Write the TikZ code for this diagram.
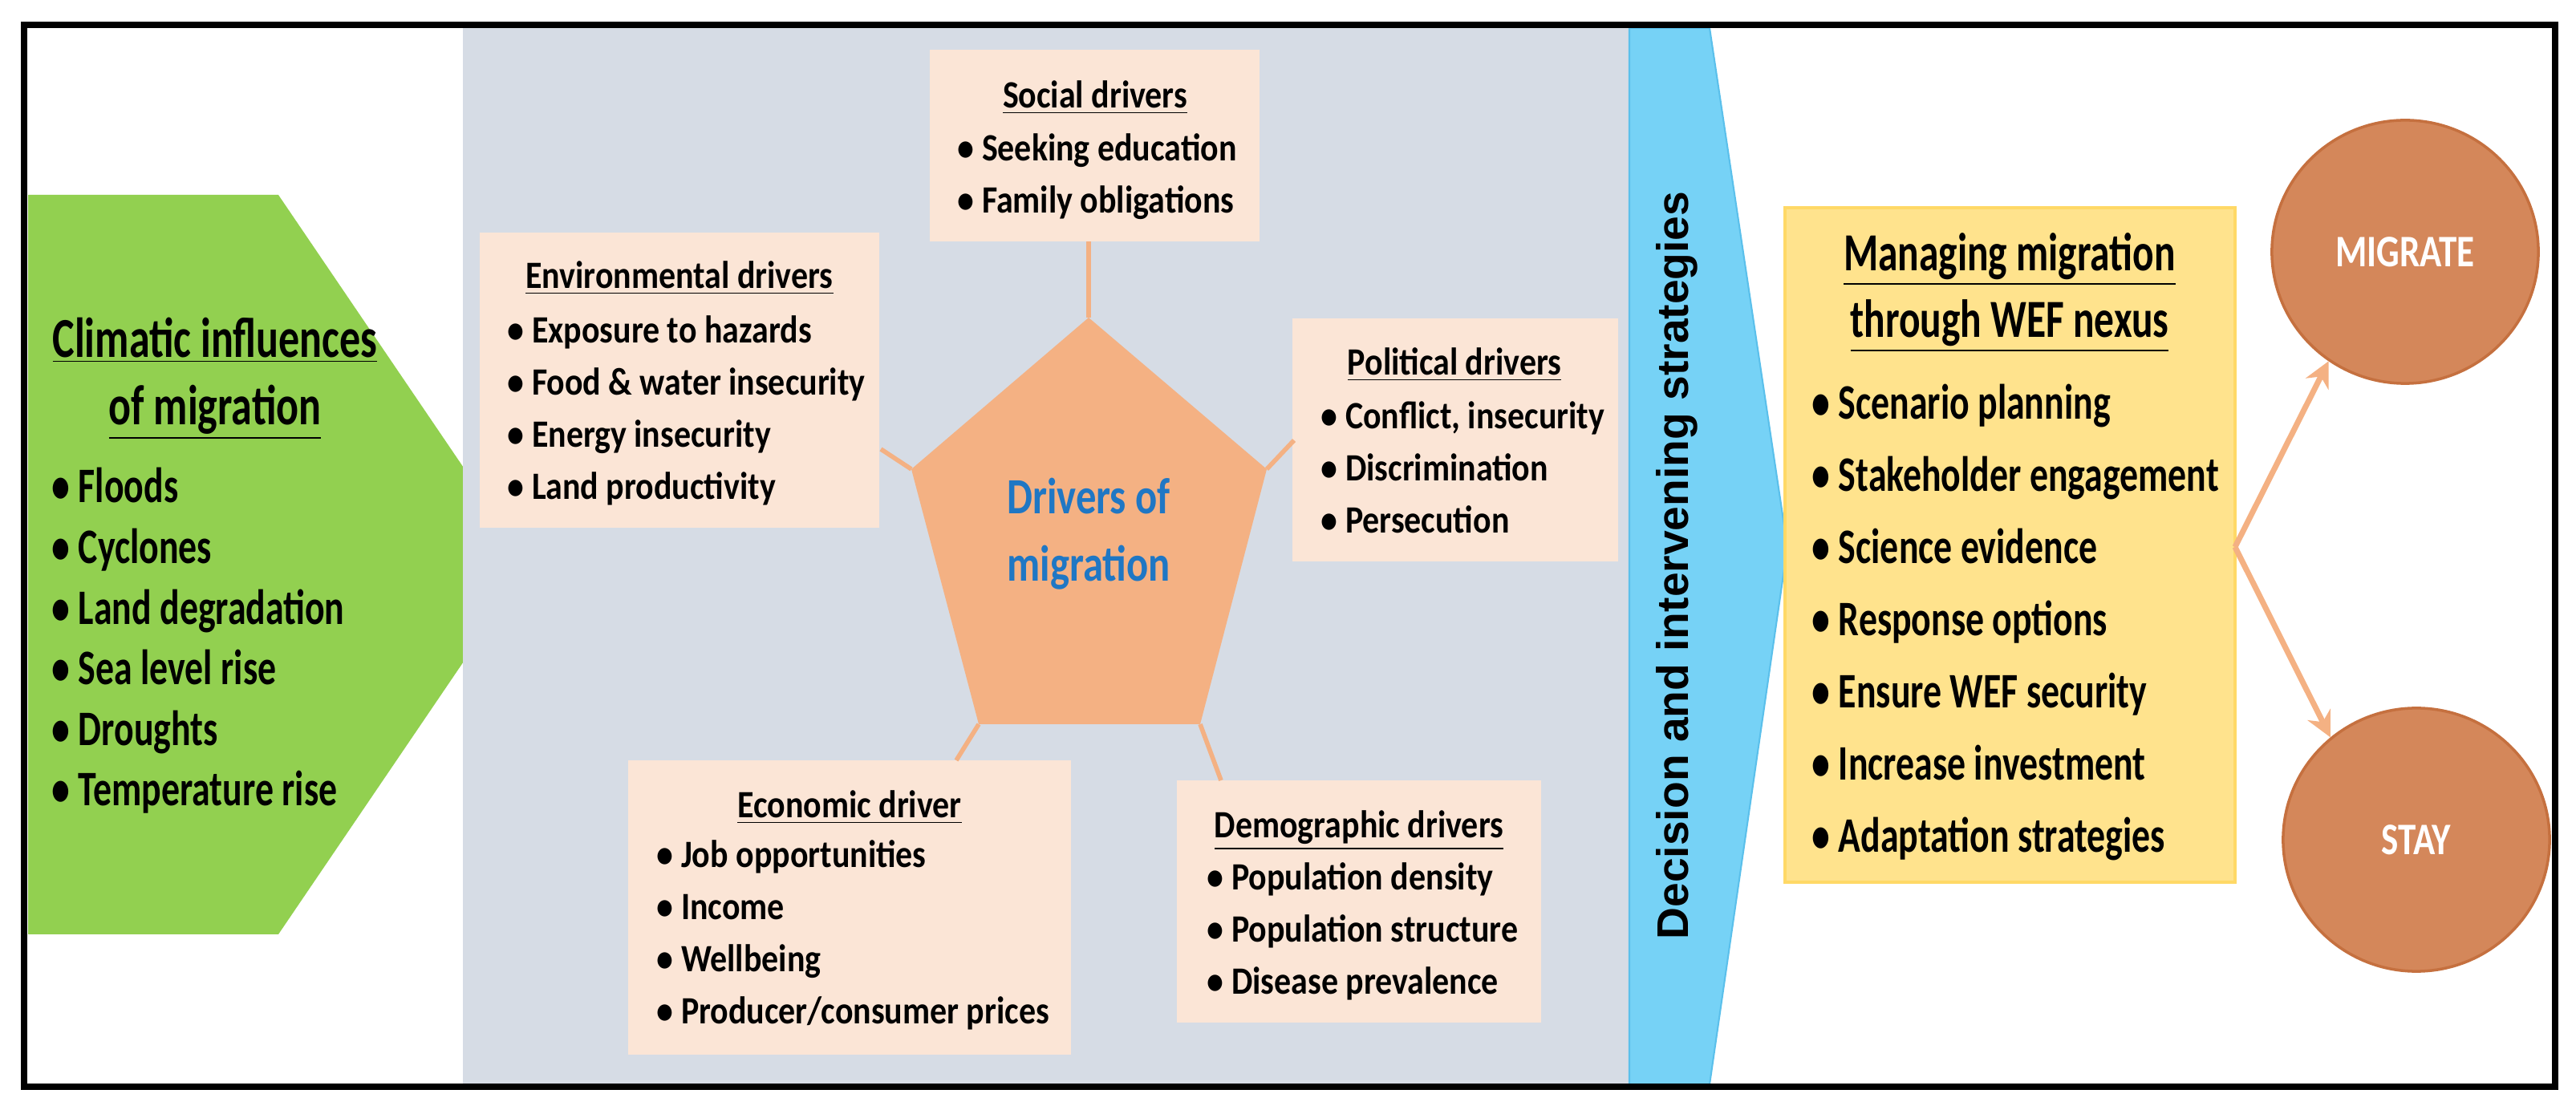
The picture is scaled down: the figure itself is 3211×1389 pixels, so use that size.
\documentclass[tikz,border=0pt]{standalone}
\usepackage{fontspec}
\usetikzlibrary{arrows.meta,shapes.geometric}
\newfontfamily\cf{Carlito}[FakeStretch=0.8]
\newfontfamily\cfa{Carlito}[FakeStretch=0.87]
\newfontfamily\cfb{Carlito}[FakeStretch=0.74]
\newfontfamily\lsb{Liberation Sans}
\definecolor{frgreen}{HTML}{92D050}
\definecolor{frgray}{HTML}{D6DCE5}
\definecolor{frblue}{HTML}{76D2F6}
\definecolor{frblueb}{HTML}{5BC0EB}
\definecolor{frpeach}{HTML}{FBE5D6}
\definecolor{frpent}{HTML}{F4B183}
\definecolor{fryel}{HTML}{FFE38D}
\definecolor{fryelb}{HTML}{FFD966}
\definecolor{frcirc}{HTML}{D4875A}
\definecolor{frcircb}{HTML}{C5703F}
\definecolor{frtxtblue}{HTML}{1F77C4}
\tikzset{
  x=0.01cm, y=-0.01cm,
  dbox/.style={fill=frpeach, draw=none},
  dtitle/.style={font=\cfa\bfseries\fontsize{13.7}{18.5}\selectfont, anchor=base, inner sep=0},
  ditems/.style={font=\cfa\bfseries\fontsize{13.7}{18.5}\selectfont, anchor=base west, align=left, inner sep=0},
  conn/.style={draw=frpent, line width=1.6pt},
  circ/.style={ellipse, fill=frcirc, draw=frcircb, line width=1pt, text=white, font=\cf\bfseries\fontsize{16}{18}\selectfont, minimum width=3.32cm, minimum height=3.28cm, inner sep=0},
  outarrow/.style={draw=frpent, line width=2pt, -{Stealth[length=9pt,width=9pt]}},
}
\begin{document}
\begin{tikzpicture}
\useasboundingbox (0,0) rectangle (3211,1389);
% green arrow
\fill[frgreen] (35,243) -- (347,243) -- (660,704) -- (347,1165) -- (35,1165) -- cycle;
% gray panel
\fill[frgray] (577,35) rectangle (2031,1352);
% blue arrow
\filldraw[fill=frblue, draw=frblueb, line width=0.6pt] (2031,35) -- (2131,35) -- (2228,682) -- (2131,1352) -- (2031,1352) -- cycle;
\node[rotate=90, font=\lsb\bfseries\fontsize{15.7}{18}\selectfont, inner sep=0] (dec) at (2090,705) {Decision and intervening strategies};
% green text
\node[font=\cfb\bfseries\fontsize{20}{23.9}\selectfont, align=center, inner sep=0] (clt) at (268,472) {\underline{Climatic influences}\\\underline{of migration}};
\node[font=\cfb\bfseries\fontsize{17.6}{21.5}\selectfont, anchor=base west, align=left, inner sep=0] (cli) at (64,1005) {• Floods\\• Cyclones\\• Land degradation\\• Sea level rise\\• Droughts\\• Temperature rise};
% driver boxes
\fill[dbox] (1159,62) rectangle (1570,301);
\fill[dbox] (598,290) rectangle (1096,658);
\fill[dbox] (1611,397) rectangle (2017,700);
\fill[dbox] (783,948) rectangle (1335,1315);
\fill[dbox] (1467,973) rectangle (1921,1275);
\coordinate (socb) at (1357,301);
\coordinate (envr) at (1098,560);
\coordinate (polr) at (1613,549);
\coordinate (ecot) at (1192,948);
\coordinate (demt) at (1522,973);
% pentagon
\coordinate (pt) at (1357,396);
\coordinate (pr) at (1579,585);
\coordinate (pbr) at (1496,903);
\coordinate (pbl) at (1220,903);
\coordinate (pl) at (1136,585);
\draw[conn] (pt) -- (socb);
\draw[conn] (pl) -- (envr);
\draw[conn] (pr) -- (polr);
\draw[conn] (pbl) -- (ecot);
\draw[conn] (pbr) -- (demt);
\fill[frpent] (pt) -- (pr) -- (pbr) -- (pbl) -- (pl) -- cycle;
\node[font=\cf\bfseries\fontsize{18}{23.9}\selectfont, text=frtxtblue, align=center, inner sep=0] (drv) at (1357,666) {Drivers of\\migration};
% driver texts
\node[dtitle] (soct) at (1365,135) {\underline{Social drivers}};
\node[ditems] (soci) at (1193,266) {• Seeking education\\• Family obligations};
\node[dtitle] (envt) at (847,360) {\underline{Environmental drivers}};
\node[ditems] (envi) at (632,623) {• Exposure to hazards\\• Food \& water insecurity\\• Energy insecurity\\• Land productivity};
\node[dtitle] (polt) at (1813,468) {\underline{Political drivers}};
\node[ditems] (poli) at (1646,665) {• Conflict, insecurity\\• Discrimination\\• Persecution};
\node[dtitle] (ecott) at (1059,1020) {\underline{Economic driver}};
\node[ditems] (ecoi) at (818,1277) {• Job opportunities\\• Income\\• Wellbeing\\• Producer/consumer prices};
\node[dtitle] (demtt) at (1694,1045) {\underline{Demographic drivers}};
\node[ditems] (demi) at (1504,1240) {• Population density\\• Population structure\\• Disease prevalence};
% yellow box
\filldraw[fill=fryel, draw=fryelb, line width=1pt] (2225,259) rectangle (2786,1100);
\node[font=\cfb\bfseries\fontsize{19}{23.6}\selectfont, align=center, inner sep=0] (wft) at (2505,365) {\underline{Managing migration}\\\underline{through WEF nexus}};
\node[font=\cfb\bfseries\fontsize{17.6}{25.6}\selectfont, anchor=base west, align=left, inner sep=0] (wfi) at (2258,1063) {• Scenario planning\\• Stakeholder engagement\\• Science evidence\\• Response options\\• Ensure WEF security\\• Increase investment\\• Adaptation strategies};
\coordinate (yr) at (2786,682);
% circles
\node[circ] (mig) at (2998,314) {MIGRATE};
\node[circ] (stay) at (3012,1047) {STAY};
\draw[outarrow] (yr) -- (mig.-125);
\draw[outarrow] (yr) -- (stay.130);
% frame
\draw[line width=2.3pt] (30,31) rectangle (3185,1355);
\end{tikzpicture}
\end{document}
